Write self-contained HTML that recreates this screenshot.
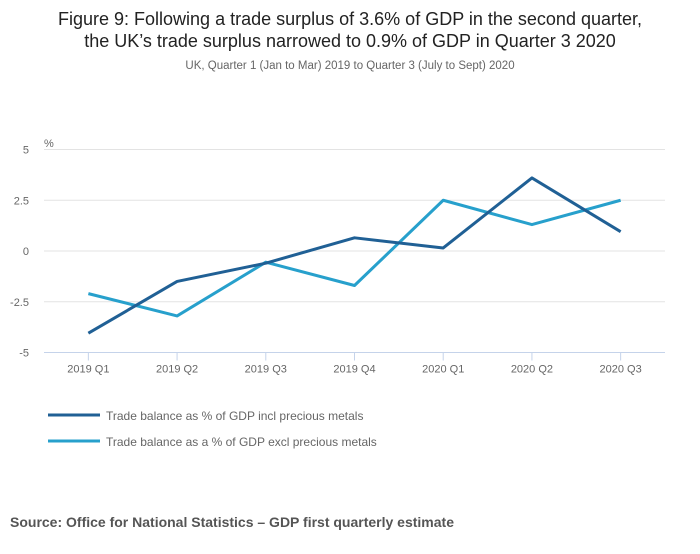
<!DOCTYPE html>
<html><head><meta charset="utf-8"><style>
body{margin:0;background:#fff;font-family:"Liberation Sans",sans-serif;}
svg text{font-family:"Liberation Sans",sans-serif;}
</style></head><body>
<svg id="chart" width="700" height="549" xmlns="http://www.w3.org/2000/svg">
<text x="350" y="25" text-anchor="middle" font-size="18" fill="#222">Figure 9: Following a trade surplus of 3.6% of GDP in the second quarter,</text>
<text x="350" y="47" text-anchor="middle" font-size="18" fill="#222">the UK’s trade surplus narrowed to 0.9% of GDP in Quarter 3 2020</text>
<text x="350" y="69" text-anchor="middle" font-size="11.5" fill="#666">UK, Quarter 1 (Jan to Mar) 2019 to Quarter 3 (July to Sept) 2020</text>
<text x="44" y="147" font-size="11" fill="#666">%</text>
<g id="grid"></g>
<g id="series"></g>
<g>
<line x1="48" y1="415" x2="100" y2="415" stroke="#206095" stroke-width="3"/>
<text x="106" y="420" font-size="12" fill="#666">Trade balance as % of GDP incl precious metals</text>
<line x1="48" y1="441" x2="100" y2="441" stroke="#27a0cc" stroke-width="3"/>
<text x="106" y="446" font-size="12" fill="#666">Trade balance as a % of GDP excl precious metals</text>
</g>
<text x="10" y="527" font-size="14" font-weight="bold" fill="#555">Source: Office for National Statistics – GDP first quarterly estimate</text>
</svg>
<script>
const categories=["2019 Q1","2019 Q2","2019 Q3","2019 Q4","2020 Q1","2020 Q2","2020 Q3"];
const inclValues=[-4.05,-1.5,-0.6,0.65,0.15,3.6,0.95];
const exclValues=[-2.1,-3.2,-0.55,-1.7,2.5,1.3,2.5];
const yTicks=[5,2.5,0,-2.5,-5];
const yTickLabels=["5","2.5","0","-2.5","-5"];
const NS="http://www.w3.org/2000/svg";
const L=44,R=665,T=149.5,B=352.5;
const y=v=>T+(5-v)/10*(B-T);
const bw=(R-L)/categories.length;
const x=i=>L+bw*(i+0.5);
const grid=document.getElementById('grid');
function mk(tag,attrs,parent){const e=document.createElementNS(NS,tag);for(const k in attrs)e.setAttribute(k,attrs[k]);parent.appendChild(e);return e;}
yTicks.forEach((t,i)=>{
 const ln=mk('line',{x1:L,x2:R,y1:y(t),y2:y(t),stroke:t===-5?'#c5d3ea':'#e3e3e3','stroke-width':1},grid);
 
 
 const tx=mk('text',{x:29,y:y(t)+4,'text-anchor':'end','font-size':11,fill:'#666'},grid);
 tx.textContent=yTickLabels[i];
 
 
});
categories.forEach((c,i)=>{
 const tk=mk('line',{x1:x(i),x2:x(i),y1:B,y2:B+8,stroke:'#c5d3ea'},grid);
 
 
 const tx=mk('text',{x:x(i),y:B+20,'text-anchor':'middle','font-size':11,fill:'#666'},grid);
 tx.textContent=c;
 
 
});
const s=document.getElementById('series');
const p2=mk('polyline',{points:exclValues.map((v,i)=>x(i)+','+y(v)).join(' '),fill:'none',stroke:'#27a0cc','stroke-width':3,'stroke-linejoin':'round'},s);


const p1=mk('polyline',{points:inclValues.map((v,i)=>x(i)+','+y(v)).join(' '),fill:'none',stroke:'#206095','stroke-width':3,'stroke-linejoin':'round'},s);


</script>
</body></html>
